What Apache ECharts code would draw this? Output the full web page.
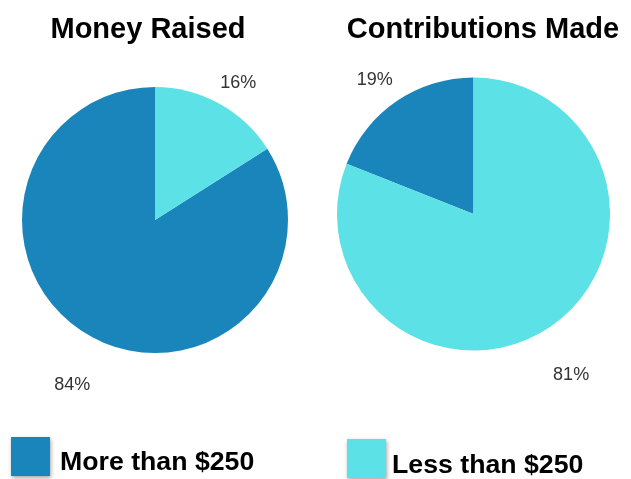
<!DOCTYPE html>
<html>
<head>
<meta charset="utf-8">
<script src="https://cdn.jsdelivr.net/npm/echarts@6/dist/echarts.min.js"></script>
<style>html,body{margin:0;padding:0;background:#fff;}#main{width:631px;height:479px;}</style>
</head>
<body>
<div id="main"></div>
<script>
// ---- data ----
const categories = ['More than $250', 'Less than $250'];
const moneyRaised = [84, 16];
const contributionsMade = [19, 81];
const chartTitles = ['Money Raised', 'Contributions Made'];

// ---- styles ----
const colors = ['#1985BA', '#5CE1E6'];
// per-slice label placement tweaks (index matches categories)
const leftLabelTweak = [
  { length: 55.5, distance: -26 },
  { length: 23, distance: -10 }
];
const rightLabelTweak = [
  { length: 26, distance: -10.6 },
  { length: 58.5, distance: -30 }
];

function buildData(values, tweaks) {
  return categories.map((name, i) => ({
    name: name,
    value: values[i],
    itemStyle: { color: colors[i] },
    label: { distanceToLabelLine: tweaks[i].distance },
    labelLine: { show: false, length: tweaks[i].length, length2: 0 }
  }));
}

const labelStyle = {
  show: true,
  position: 'outside',
  formatter: '{d}%',
  fontFamily: 'Liberation Sans, Arial, sans-serif',
  fontSize: 18,
  color: '#333'
};

const titleFont = { fontFamily: 'Liberation Sans, Arial, sans-serif', fontSize: 29, fontWeight: 'bold', color: '#000' };

function legendText(padTop, padLeft) {
  return {
    fontFamily: 'Liberation Sans, Arial, sans-serif', fontSize: 26.7, fontWeight: 'bold', color: '#000',
    rich: { t: { fontFamily: 'Liberation Sans, Arial, sans-serif', fontSize: 26.7, fontWeight: 'bold', color: '#000', padding: [padTop, 0, 0, padLeft] } }
  };
}

const chart = echarts.init(document.getElementById('main'), null, { renderer: 'canvas' });
chart.setOption({
  backgroundColor: '#fff',
  animation: false,
  title: [
    { text: chartTitles[0], left: 148, top: 15, padding: 0, textAlign: 'center', textStyle: titleFont },
    { text: chartTitles[1], left: 483, top: 15, padding: 0, textAlign: 'center', textStyle: titleFont }
  ],
  legend: [
    {
      data: [categories[0]], left: 11, top: 437, padding: 0,
      icon: 'rect', itemWidth: 39, itemHeight: 39, itemGap: 0, selectedMode: false,
      itemStyle: { shadowBlur: 4, shadowColor: 'rgba(0,0,0,0.35)', shadowOffsetX: 1, shadowOffsetY: 2 },
      formatter: name => '{t|' + name + '}',
      textStyle: legendText(13, 5)
    },
    {
      data: [categories[1]], left: 347, top: 439, padding: 0,
      icon: 'rect', itemWidth: 39, itemHeight: 39, itemGap: 0, selectedMode: false,
      itemStyle: { shadowBlur: 4, shadowColor: 'rgba(0,0,0,0.35)', shadowOffsetX: 1, shadowOffsetY: 2 },
      formatter: name => '{t|' + name + '}',
      textStyle: legendText(14, 1)
    }
  ],
  series: [
    {
      type: 'pie',
      name: chartTitles[0],
      center: [155, 220],
      radius: 133,
      startAngle: 90,
      clockwise: false,
      avoidLabelOverlap: false,
      itemStyle: { borderWidth: 0 },
      label: labelStyle,
      emphasis: { disabled: true },
      data: buildData(moneyRaised, leftLabelTweak)
    },
    {
      type: 'pie',
      name: chartTitles[1],
      center: [473.5, 214],
      radius: 136.5,
      startAngle: 90,
      clockwise: false,
      avoidLabelOverlap: false,
      itemStyle: { borderWidth: 0 },
      label: labelStyle,
      emphasis: { disabled: true },
      data: buildData(contributionsMade, rightLabelTweak)
    }
  ]
});
</script>
</body>
</html>
